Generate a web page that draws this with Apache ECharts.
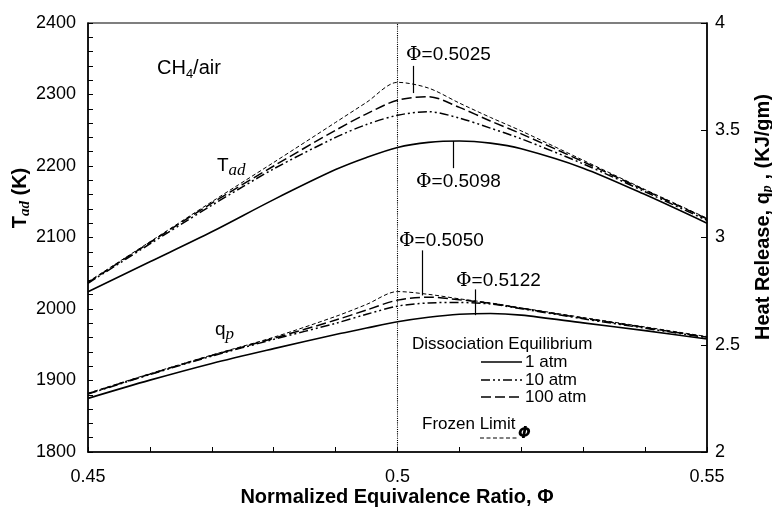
<!DOCTYPE html>
<html><head><meta charset="utf-8">
<script src="https://cdn.jsdelivr.net/npm/echarts@6/dist/echarts.min.js"></script>
<style>html,body{margin:0;padding:0;background:#fff}#c{width:772px;height:513px}</style>
</head><body><div id="c"></div>
<script>
// Normalized equivalence ratio grid
const phi = [0.45, 0.46, 0.47, 0.48, 0.49, 0.495, 0.5, 0.505, 0.51, 0.515, 0.52, 0.53, 0.54, 0.55];
// Adiabatic flame temperature T_ad (K), left axis
const tadFrozen = [2038, 2094, 2150, 2205, 2261, 2289, 2317, 2309, 2288, 2268, 2249, 2208, 2167, 2127];
const tad100 = [2037, 2093, 2148, 2200, 2250, 2273, 2292, 2297, 2282, 2263, 2245, 2206, 2166, 2126];
const tad10 = [2036, 2091, 2145, 2196, 2240, 2258, 2271, 2276, 2267, 2253, 2238, 2203, 2164, 2124];
const tad1 = [2024, 2066, 2108, 2153, 2195, 2212, 2226, 2233, 2235, 2232, 2224, 2197, 2160, 2120];
// Heat release q_p (KJ/gm), right axis
const qpFrozen = [2.274, 2.365, 2.452, 2.535, 2.632, 2.688, 2.748, 2.735, 2.714, 2.695, 2.672, 2.627, 2.583, 2.538];
const qp100 = [2.272, 2.363, 2.450, 2.530, 2.615, 2.662, 2.708, 2.722, 2.710, 2.693, 2.670, 2.624, 2.580, 2.535];
const qp10 = [2.270, 2.361, 2.447, 2.525, 2.600, 2.642, 2.680, 2.695, 2.697, 2.690, 2.668, 2.621, 2.577, 2.533];
const qp1 = [2.250, 2.335, 2.413, 2.482, 2.548, 2.578, 2.607, 2.628, 2.642, 2.646, 2.638, 2.602, 2.566, 2.527];
// Axis tick labels
const xTickLabels = [0.45, 0.5, 0.55];
const leftTickLabels = [1800, 1900, 2000, 2100, 2200, 2300, 2400];
const rightTickLabels = [2, 2.5, 3, 3.5, 4];
// Peak annotations: [phi, label value]
const tadPeaks = [[0.5025, '=0.5025'], [0.509, '=0.5098']];
const qpPeaks = [[0.504, '=0.5050'], [0.5125, '=0.5122']];

const pair = (ys) => phi.map((x, i) => [x, ys[i]]);
const FONT = '"Liberation Sans", Arial, Helvetica, sans-serif';
const K = '#000';
const ST = {
  solid: {type: 'solid', width: 1.6},
  dd: {type: [9, 3, 2, 3, 2, 3], width: 1.5},
  ld: {type: [10, 4], width: 1.5},
  fz: {type: [4, 2.5], width: 1}
};
function ser(name, ys, axis, st, extra) {
  return Object.assign({
    name, type: 'line', data: pair(ys), yAxisIndex: axis, smooth: 0.3,
    showSymbol: false, symbol: 'none', silent: true,
    lineStyle: {color: K, width: st.width, type: st.type}
  }, extra || {});
}
function pointer(x, y1, y2) {
  return [{coord: [x, y1]}, {coord: [x, y2]}];
}
const mlBase = {symbol: 'none', silent: true, label: {show: false},
  lineStyle: {color: K, type: 'solid', width: 1.2}};
function phiLabel(x, y, val) {
  return {type: 'text', x, y, style: {
    text: '{p|Φ}{a|' + val + '}', fill: K, textVerticalAlign: 'middle',
    rich: {p: {font: '19px "DejaVu Serif", serif', fill: K, lineHeight: 22}, a: {font: '19px ' + FONT, fill: K, lineHeight: 22}}
  }};
}

const chart = echarts.init(document.getElementById('c'), null, {renderer: 'canvas'});
chart.setOption({
  animation: false,
  backgroundColor: '#fff',
  grid: {left: 88, right: 65, top: 23, bottom: 61, show: true, borderColor: K, borderWidth: 1.2, backgroundColor: 'transparent'},
  xAxis: {
    type: 'value', min: 0.45, max: 0.55, interval: 0.01,
    axisLine: {onZero: false, lineStyle: {color: K, width: 1.5}},
    axisTick: {inside: true, length: 5, lineStyle: {color: K, width: 1}},
    splitLine: {show: false},
    axisLabel: {
      color: K, fontSize: 18, fontFamily: FONT, margin: 16, showMinLabel: true, showMaxLabel: true,
      formatter: v => xTickLabels.some(t => Math.abs(t - v) < 1e-6) ? String(+v.toFixed(2)) : ''
    }
  },
  yAxis: [{
    type: 'value', min: 1800, max: 2400, interval: 20, position: 'left',
    axisLine: {show: true, onZero: false, lineStyle: {color: K, width: 1.5}},
    axisTick: {inside: true, length: 5, lineStyle: {color: K, width: 1}},
    splitLine: {show: false},
    axisLabel: {
      color: K, fontSize: 18, fontFamily: FONT, margin: 12, showMinLabel: true, showMaxLabel: true,
      formatter: v => leftTickLabels.some(t => Math.abs(t - v) < 1e-6) ? String(Math.round(v)) : ''
    }
  }, {
    type: 'value', min: 2, max: 4, interval: 0.5, position: 'right',
    axisLine: {show: true, onZero: false, lineStyle: {color: K, width: 1.5}},
    axisTick: {inside: true, length: 6, lineStyle: {color: K, width: 1}},
    splitLine: {show: false},
    axisLabel: {
      color: K, fontSize: 18, fontFamily: FONT, margin: 8, showMinLabel: true, showMaxLabel: true,
      formatter: v => rightTickLabels.some(t => Math.abs(t - v) < 1e-6) ? String(+v.toFixed(1)) : ''
    }
  }],
  series: [
    ser('Tad frozen', tadFrozen, 0, ST.fz, {
      markLine: Object.assign({}, mlBase, {
        lineStyle: {color: K, type: 'dotted', width: 1.1},
        data: [{xAxis: 0.5}]
      })
    }),
    ser('Tad 100 atm', tad100, 0, ST.ld, {
      markLine: Object.assign({}, mlBase, {data: [pointer(tadPeaks[0][0], 2340, 2302)]})
    }),
    ser('Tad 10 atm', tad10, 0, ST.dd),
    ser('Tad 1 atm', tad1, 0, ST.solid, {
      markLine: Object.assign({}, mlBase, {data: [pointer(tadPeaks[1][0], 2235, 2197)]})
    }),
    ser('qp frozen', qpFrozen, 1, ST.fz),
    ser('qp 100 atm', qp100, 1, ST.ld, {
      markLine: Object.assign({}, mlBase, {data: [pointer(qpPeaks[0][0], 2.94, 2.73)]})
    }),
    ser('qp 10 atm', qp10, 1, ST.dd),
    ser('qp 1 atm', qp1, 1, ST.solid, {
      markLine: Object.assign({}, mlBase, {data: [pointer(qpPeaks[1][0], 2.758, 2.638)]})
    })
  ],
  graphic: [
    // axis titles
    {type: 'text', x: 397, y: 497, style: {text: 'Normalized Equivalence Ratio, Φ', font: 'bold 20px ' + FONT, fill: K, textAlign: 'center', textVerticalAlign: 'middle'}},
    {type: 'text', x: 20, y: 198, rotation: Math.PI / 2, style: {
      text: '{b|T}{s|ad}{b| (K)}', fill: K, textAlign: 'center', textVerticalAlign: 'middle',
      rich: {b: {font: 'bold 20px ' + FONT, lineHeight: 20, fill: K}, s: {font: 'bold italic 15px "Liberation Serif", serif', lineHeight: 26, verticalAlign: 'bottom', fill: K}}
    }},
    {type: 'text', x: 763, y: 217, rotation: Math.PI / 2, style: {
      text: '{b|Heat Release, q}{s|p}{b| , (KJ/gm)}', fill: K, textAlign: 'center', textVerticalAlign: 'middle',
      rich: {b: {font: 'bold 20px ' + FONT, lineHeight: 20, fill: K}, s: {font: 'bold italic 14px "Liberation Serif", serif', lineHeight: 22, verticalAlign: 'bottom', fill: K}}
    }},
    // in-plot labels
    {type: 'text', x: 157, y: 68, style: {
      text: '{a|CH}{s|4}{a|/air}', fill: K, textVerticalAlign: 'middle',
      rich: {a: {font: '20px ' + FONT, lineHeight: 20, fill: K}, s: {font: '13px ' + FONT, lineHeight: 26, verticalAlign: 'bottom', fill: K}}
    }},
    {type: 'text', x: 217, y: 166, style: {
      text: '{a|T}{s|ad}', fill: K, textVerticalAlign: 'middle',
      rich: {a: {font: '19px ' + FONT, lineHeight: 20, fill: K}, s: {font: 'italic 17px "Liberation Serif", serif', lineHeight: 26, verticalAlign: 'bottom', fill: K}}
    }},
    {type: 'text', x: 215, y: 330, style: {
      text: '{a|q}{s|p}', fill: K, textVerticalAlign: 'middle',
      rich: {a: {font: '19px ' + FONT, lineHeight: 20, fill: K}, s: {font: 'italic 17px "Liberation Serif", serif', lineHeight: 26, verticalAlign: 'bottom', fill: K}}
    }},
    // peak annotations
    phiLabel(406, 55, tadPeaks[0][1]),
    phiLabel(416, 182, tadPeaks[1][1]),
    phiLabel(399, 241, qpPeaks[0][1]),
    phiLabel(456, 281, qpPeaks[1][1]),
    // legend
    {type: 'text', x: 412, y: 344, style: {text: 'Dissociation Equilibrium', font: '17px ' + FONT, fill: K, textVerticalAlign: 'middle'}},
    {type: 'line', shape: {x1: 481, y1: 362, x2: 522, y2: 362}, style: {stroke: K, lineWidth: 1.6}},
    {type: 'text', x: 525, y: 362, style: {text: '1 atm', font: '17px ' + FONT, fill: K, textVerticalAlign: 'middle'}},
    {type: 'line', shape: {x1: 481, y1: 380, x2: 522, y2: 380}, style: {stroke: K, lineWidth: 1.5, lineDash: [9, 3, 2, 3, 2, 3]}},
    {type: 'text', x: 525, y: 380, style: {text: '10 atm', font: '17px ' + FONT, fill: K, textVerticalAlign: 'middle'}},
    {type: 'line', shape: {x1: 481, y1: 397, x2: 522, y2: 397}, style: {stroke: K, lineWidth: 1.5, lineDash: [10, 4]}},
    {type: 'text', x: 525, y: 397, style: {text: '100 atm', font: '17px ' + FONT, fill: K, textVerticalAlign: 'middle'}},
    {type: 'text', x: 422, y: 424, style: {text: 'Frozen Limit', font: '17px ' + FONT, fill: K, textVerticalAlign: 'middle'}},
    {type: 'line', shape: {x1: 480, y1: 438, x2: 517, y2: 438}, style: {stroke: K, lineWidth: 1, lineDash: [4, 2.5]}},
    {type: 'text', x: 518, y: 434, style: {text: 'Φ', font: 'bold italic 15px "DejaVu Sans", sans-serif', fill: K, textVerticalAlign: 'middle'}}
  ]
});
</script>
</body></html>
